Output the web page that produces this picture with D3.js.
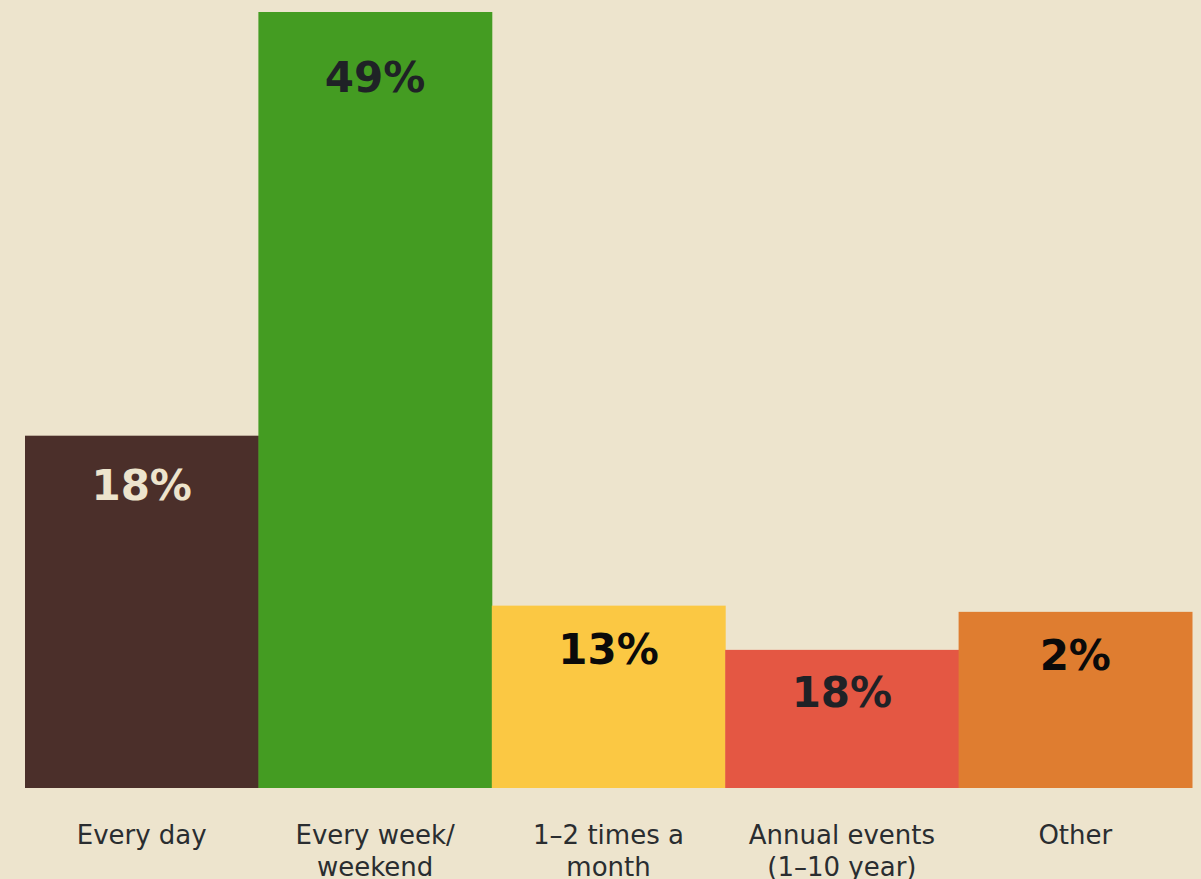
<!DOCTYPE html>
<html>
<head>
<meta charset="utf-8">
<script src="https://cdn.jsdelivr.net/npm/d3@7"></script>
<style>
  html, body { margin: 0; padding: 0; background: #ede4cd; overflow: hidden; }
  svg { display: block; }
</style>
</head>
<body>
<svg id="chart" width="1201" height="879"></svg>
<script>
// Categories (x-axis labels, split into lines)
const categories = ["Every day", "Every week/ weekend", "1–2 times a month", "Annual events (1–10 year)", "Other"];
const categoryLines = [["Every day"], ["Every week/", "weekend"], ["1–2 times a", "month"], ["Annual events", "(1–10 year)"], ["Other"]];
// Bar heights as drawn in the picture (relative units, tallest = 100)
const barHeights = [45.4, 100, 23.5, 17.8, 22.7];
// Value labels printed on the bars
const valueLabels = ["18%", "49%", "13%", "18%", "2%"];

const barColors = ["#4b2f2a", "#449c22", "#fbc843", "#e45743", "#df7d30"];
const labelColors = ["#ede4cd", "#1f2226", "#0a0a0a", "#1f2226", "#0a0a0a"];

const svg = d3.select("#chart");
const W = 1201, H = 879;
const margin = { left: 25, right: 9, top: 12, bottom: 91 };

const x = d3.scaleBand()
  .domain(categories)
  .range([margin.left, W - margin.right])
  .padding(0);

const y = d3.scaleLinear()
  .domain([0, 100])
  .range([H - margin.bottom, margin.top]);

const data = categories.map((c, i) => ({ cat: c, h: barHeights[i], label: valueLabels[i], lines: categoryLines[i], i }));

svg.append("rect").attr("width", W).attr("height", H).attr("fill", "#ede4cd");

svg.selectAll("rect.bar")
  .data(data)
  .join("rect")
  .attr("class", "bar")
  .attr("x", d => x(d.cat))
  .attr("width", x.bandwidth() + 0.5)
  .attr("y", d => y(d.h))
  .attr("height", d => y(0) - y(d.h))
  .attr("fill", d => barColors[d.i]);

svg.selectAll("text.val")
  .data(data)
  .join("text")
  .attr("class", "val")
  .attr("x", d => x(d.cat) + x.bandwidth() / 2)
  .attr("y", d => { const ph = y(0) - y(d.h); return y(d.h) + 52 + ph * 0.036; })
  .attr("text-anchor", "middle")
  .attr("font-family", "'DejaVu Sans', sans-serif")
  .attr("font-weight", 700)
  .attr("font-size", 42)
  .attr("fill", d => labelColors[d.i])
  .text(d => d.label);

// x-axis labels via axis
const axis = d3.axisBottom(x).tickSize(0).tickPadding(0).tickFormat("");
const gAxis = svg.append("g")
  .attr("transform", `translate(0,${y(0)})`)
  .call(axis);
gAxis.select(".domain").remove();

gAxis.selectAll(".tick").each(function(d, i) {
  const t = d3.select(this).append("text")
    .attr("text-anchor", "middle")
    .attr("font-family", "'DejaVu Sans', sans-serif")
    .attr("font-size", 26)
    .attr("fill", "#2a2d30");
  categoryLines[i].forEach((line, j) => {
    t.append("tspan").attr("x", 0).attr("y", 56 + j * 32).text(line);
  });
});
</script>
</body>
</html>
